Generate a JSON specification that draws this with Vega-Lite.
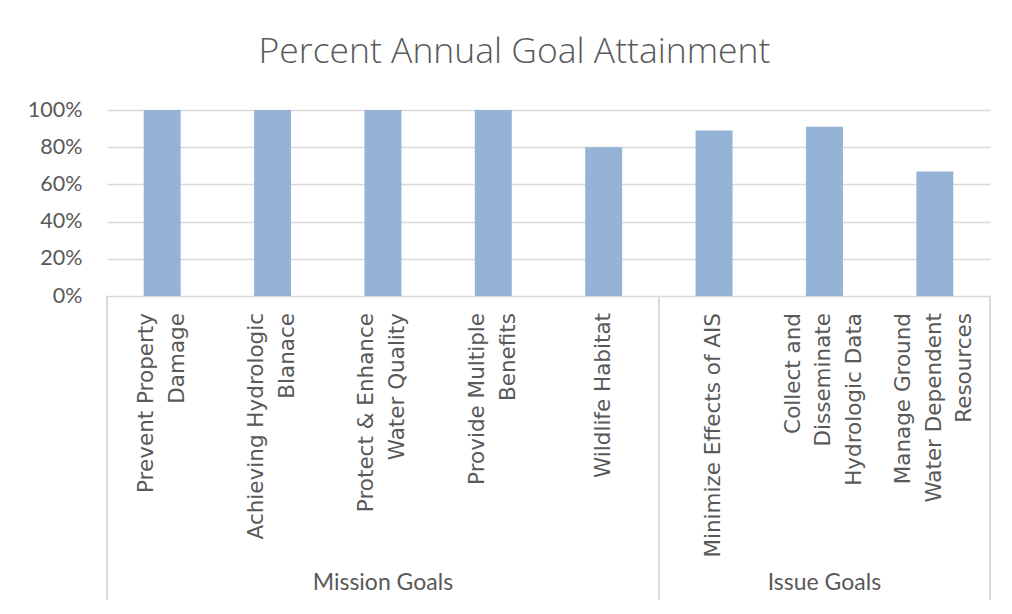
{
  "$schema": "https://vega.github.io/schema/vega-lite/v6.json",
  "width": 883,
  "height": 490,
  "autosize": {"type": "none"},
  "padding": {"left": 107, "top": 110, "right": 22, "bottom": 14},
  "background": "white",
  "config": {"view": {"stroke": null}},
  "title": {
    "text": "Percent Annual Goal Attainment",
    "font": "Open Sans",
    "fontSize": 35.5,
    "fontWeight": 300,
    "color": "#595959",
    "anchor": "middle",
    "frame": "group",
    "baseline": "alphabetic",
    "offset": 1,
    "dx": -34
  },
  "data": {
    "values": [
      {"goal": "Prevent Property Damage", "label": "Prevent Property\nDamage", "group": "Mission Goals", "pct": 1.0},
      {"goal": "Achieving Hydrologic Blanace", "label": "Achieving Hydrologic\nBlanace", "group": "Mission Goals", "pct": 1.0},
      {"goal": "Protect & Enhance Water Quality", "label": "Protect & Enhance\nWater Quality", "group": "Mission Goals", "pct": 1.0},
      {"goal": "Provide Multiple Benefits", "label": "Provide Multiple\nBenefits", "group": "Mission Goals", "pct": 1.0},
      {"goal": "Wildlife Habitat", "label": "Wildlife Habitat", "group": "Mission Goals", "pct": 0.8},
      {"goal": "Minimize Effects of AIS", "label": "Minimize Effects of AIS", "group": "Issue Goals", "pct": 0.89},
      {"goal": "Collect and Disseminate Hydrologic Data", "label": "Collect and\nDisseminate\nHydrologic Data", "group": "Issue Goals", "pct": 0.91},
      {"goal": "Manage Ground Water Dependent Resources", "label": "Manage Ground\nWater Dependent\nResources", "group": "Issue Goals", "pct": 0.67}
    ]
  },
  "layer": [
    {
      "mark": {"type": "bar", "color": "#95B3D7", "width": {"band": 0.335}},
      "encoding": {
        "x": {"field": "goal", "type": "nominal", "sort": null, "axis": null,
              "scale": {"paddingInner": 0, "paddingOuter": 0}},
        "y": {"field": "pct", "type": "quantitative",
              "scale": {"domain": [0, 1], "range": [186, 0], "nice": false},
              "axis": {"format": ".0%", "values": [0, 0.2, 0.4, 0.6, 0.8, 1], "domain": false, "ticks": false,
                       "labelPadding": 25, "labelFont": "Lato", "labelFontSize": 21.5, "labelColor": "#595959",
                       "gridColor": "#D9D9D9", "gridWidth": 1.5, "title": null}}
      }
    },
    {
      "transform": [{"filter": "indexof(datum.label, '\\n') < 0"}],
      "mark": {"type": "text", "angle": 270, "align": "right", "baseline": "middle", "dx": -17,
               "lineBreak": "\n", "lineHeight": 31, "font": "DejaVu Sans", "fontSize": 21.5, "color": "#595959"},
      "encoding": {
        "x": {"field": "goal", "type": "nominal", "sort": null},
        "y": {"datum": 0, "type": "quantitative"},
        "text": {"field": "label"}
      }
    },
    {
      "transform": [{"filter": "length(split(datum.label, '\\n')) == 2"}],
      "mark": {"type": "text", "angle": 270, "align": "right", "baseline": "middle", "dx": -17, "dy": -15.5,
               "lineBreak": "\n", "lineHeight": 31, "font": "DejaVu Sans", "fontSize": 21.5, "color": "#595959"},
      "encoding": {
        "x": {"field": "goal", "type": "nominal", "sort": null},
        "y": {"datum": 0, "type": "quantitative"},
        "text": {"field": "label"}
      }
    },
    {
      "transform": [{"filter": "length(split(datum.label, '\\n')) == 3"}],
      "mark": {"type": "text", "angle": 270, "align": "right", "baseline": "middle", "dx": -17, "dy": -30.5,
               "lineBreak": "\n", "lineHeight": 30.5, "font": "DejaVu Sans", "fontSize": 21.5, "color": "#595959"},
      "encoding": {
        "x": {"field": "goal", "type": "nominal", "sort": null},
        "y": {"datum": 0, "type": "quantitative"},
        "text": {"field": "label"}
      }
    },
    {
      "data": {"values": [
        {"goal": "Protect & Enhance Water Quality", "group": "Mission Goals"},
        {"goal": "Collect and Disseminate Hydrologic Data", "group": "Issue Goals"}
      ]},
      "mark": {"type": "text", "baseline": "middle", "align": "center", "dy": -17, "font": "Lato", "fontSize": 23, "color": "#595959"},
      "encoding": {
        "x": {"field": "goal", "type": "nominal", "sort": null},
        "y": {"value": "height"},
        "text": {"field": "group"}
      }
    },
    {
      "data": {"values": [
        {"goal": "Prevent Property Damage"},
        {"goal": "Minimize Effects of AIS"}
      ]},
      "mark": {"type": "rule", "color": "#D9D9D9", "strokeWidth": 2},
      "encoding": {
        "x": {"field": "goal", "type": "nominal", "sort": null, "bandPosition": 0},
        "y": {"datum": 0, "type": "quantitative"},
        "y2": {"value": "height"}
      }
    },
    {
      "data": {"values": [
        {"goal": "Manage Ground Water Dependent Resources"}
      ]},
      "mark": {"type": "rule", "color": "#D9D9D9", "strokeWidth": 2},
      "encoding": {
        "x": {"field": "goal", "type": "nominal", "sort": null, "bandPosition": 1},
        "y": {"datum": 0, "type": "quantitative"},
        "y2": {"value": "height"}
      }
    }
  ]
}
